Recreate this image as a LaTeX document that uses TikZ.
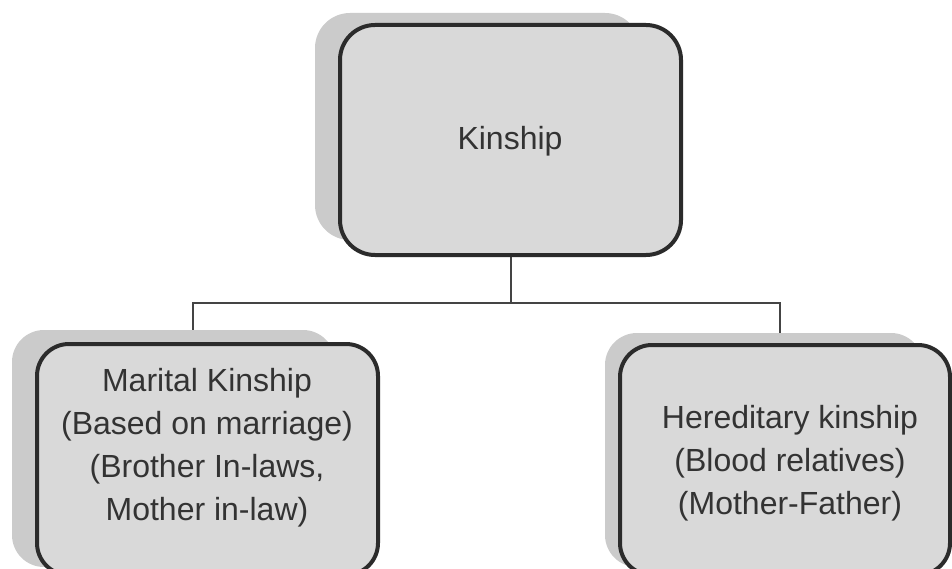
\documentclass[tikz,border=0pt]{standalone}
\usepackage{fontspec}
\setmainfont{Liberation Sans}
\usetikzlibrary{backgrounds}
\definecolor{boxfill}{HTML}{D9D9D9}
\definecolor{shadowfill}{HTML}{CBCBCB}
\definecolor{edgecol}{HTML}{2B2B2B}
\definecolor{textcol}{HTML}{333333}
\definecolor{linecol}{HTML}{444444}
\begin{document}
\begin{tikzpicture}[x=1pt,y=-1pt,
  kbox/.style={draw=edgecol, line width=4pt, fill=boxfill, rounded corners=#1, inner sep=0pt},
  kbox/.default=32pt,
  kshadow/.style={fill=shadowfill, rounded corners=#1, inner sep=0pt},
  kshadow/.default=32pt,
  ktext/.style={text=textcol, font=\fontsize{32}{43}\selectfont, align=center, inner sep=0pt},
  conn/.style={draw=linecol, line width=2pt}]
\useasboundingbox (0,0) rectangle (952,569);
\clip (0,0) rectangle (952,569);

% shadows
\node[kshadow=35pt, minimum width=325pt, minimum height=227pt] (topsh) at (477.5,126.5) {};
\node[kshadow, minimum width=323pt, minimum height=237pt] (leftsh) at (173.5,448.5) {};
\node[kshadow, minimum width=318pt, minimum height=234pt] (rightsh) at (764,450) {};

% boxes
\node[kbox=35pt, minimum width=341pt, minimum height=230pt] (top) at (510.5,140) {};
\node[kbox, minimum width=341pt, minimum height=231pt] (left) at (207.5,459.5) {};
\node[kbox, minimum width=330pt, minimum height=230pt] (right) at (785,460) {};

% texts
\node[ktext] (toptext) at (510,141) {Kinship};
\node[ktext] (lefttext) at (207,448) {Marital Kinship\\(Based on marriage)\\(Brother In-laws,\\Mother in-law)};
\node[ktext] (righttext) at (790,463) {Hereditary kinship\\(Blood relatives)\\(Mother-Father)};

% connectors
\coordinate (jl) at (193,303);
\coordinate (jr) at (780,303);
\begin{scope}[on background layer]
  \draw[conn] (top.south) -- (top.south |- jl);
  \draw[conn] (jl |- left.north) -- (jl) -- (jr) -- (jr |- right.north);
\end{scope}
\end{tikzpicture}
\end{document}
